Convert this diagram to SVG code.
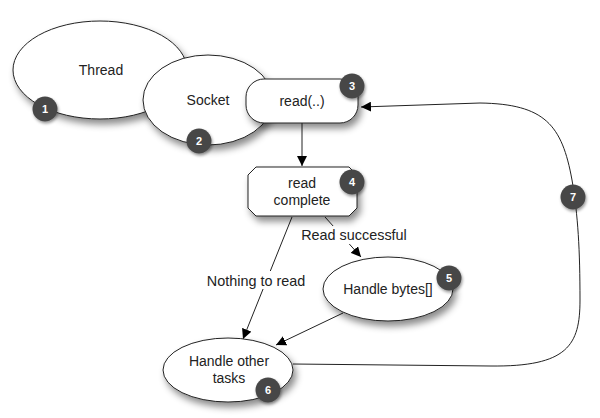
<svg xmlns="http://www.w3.org/2000/svg" width="600" height="418" viewBox="0 0 600 418">
<defs>
<filter id="sh" x="-20%" y="-20%" width="150%" height="160%">
<feDropShadow dx="3" dy="5" stdDeviation="3.5" flood-color="#000" flood-opacity="0.45"/>
</filter>
<filter id="bsh" x="-50%" y="-50%" width="200%" height="200%">
<feDropShadow dx="1" dy="2" stdDeviation="1.5" flood-color="#000" flood-opacity="0.4"/>
</filter>
<marker id="ah" viewBox="0 0 10 10" refX="10" refY="5" markerWidth="10" markerHeight="10" markerUnits="userSpaceOnUse" orient="auto">
<path d="M0,0 L10,5 L0,10 z" fill="#000"/>
</marker>
</defs>
<style>
.node{fill:#fff;stroke:#222;stroke-width:1;filter:url(#sh)}
.t{font-family:"Liberation Sans",Arial,sans-serif;font-size:14px;fill:#222;text-anchor:middle}
.lbl{font-family:"Liberation Sans",Arial,sans-serif;font-size:14.4px;fill:#222;text-anchor:middle}
.edge{fill:none;stroke:#222;stroke-width:1;marker-end:url(#ah)}
.bc{fill:#474747;filter:url(#bsh)}
.bt{font-family:"Liberation Sans",Arial,sans-serif;font-size:11px;font-weight:bold;fill:#fff;text-anchor:middle}
</style>
<rect width="600" height="418" fill="#fff"/>

<g id="connectors">
<line class="edge" x1="302" y1="123" x2="302" y2="166"/>
<line class="edge" x1="292" y1="217" x2="243" y2="339"/>
<line class="edge" x1="325" y1="217" x2="361" y2="257"/>
<line class="edge" x1="343" y1="313" x2="276" y2="345"/>
<path class="edge" d="M293,364 L490,366 C568,367 580,345 580,300 C580,250 578,215 572,180 C562,125 545,104 480,103 L361,107"/>
<rect x="204" y="271" width="104" height="18" fill="#fff"/>
<text class="lbl" x="256" y="286">Nothing to read</text>
<rect x="299" y="226" width="110" height="18" fill="#fff"/>
<text class="lbl" x="354" y="240">Read successful</text>
</g>

<g id="thread">
<ellipse class="node" cx="100" cy="70" rx="87" ry="49"/>
<text class="t" x="101" y="75">Thread</text>
<circle class="bc" cx="45" cy="109" r="12.5"/>
<text class="bt" x="45" y="113">1</text>
</g>

<g id="socket">
<ellipse class="node" cx="208" cy="100" rx="65" ry="45"/>
<text class="t" x="208" y="105">Socket</text>
<circle class="bc" cx="199" cy="141" r="12.5"/>
<text class="bt" x="199" y="145">2</text>
</g>

<g id="read">
<rect class="node" x="246" y="79" width="112" height="44" rx="18" ry="18"/>
<text class="t" x="302" y="106">read(..)</text>
<circle class="bc" cx="352" cy="86" r="12.5"/>
<text class="bt" x="352" y="90">3</text>
</g>

<g id="read-complete">
<path class="node" d="M256,167 L349,167 L357,175 L357,208 L349,216 L256,216 L248,208 L248,175 Z"/>
<text class="t" x="302" y="188">read</text>
<text class="t" x="302" y="205">complete</text>
<circle class="bc" cx="352" cy="182" r="12.5"/>
<text class="bt" x="352" y="186">4</text>
</g>

<g id="handle-bytes">
<ellipse class="node" cx="388" cy="289" rx="65" ry="32"/>
<text class="t" x="388" y="294">Handle bytes[]</text>
<circle class="bc" cx="449" cy="278" r="12.5"/>
<text class="bt" x="449" y="282">5</text>
</g>

<g id="handle-other">
<ellipse class="node" cx="228" cy="370" rx="65" ry="32"/>
<text class="t" x="229" y="366">Handle other</text>
<text class="t" x="229" y="383">tasks</text>
<circle class="bc" cx="268" cy="390" r="12.5"/>
<text class="bt" x="268" y="394">6</text>
</g>

<g id="badge-7">
<circle class="bc" cx="573" cy="197" r="12.5"/>
<text class="bt" x="573" y="201">7</text>
</g>
</svg>
